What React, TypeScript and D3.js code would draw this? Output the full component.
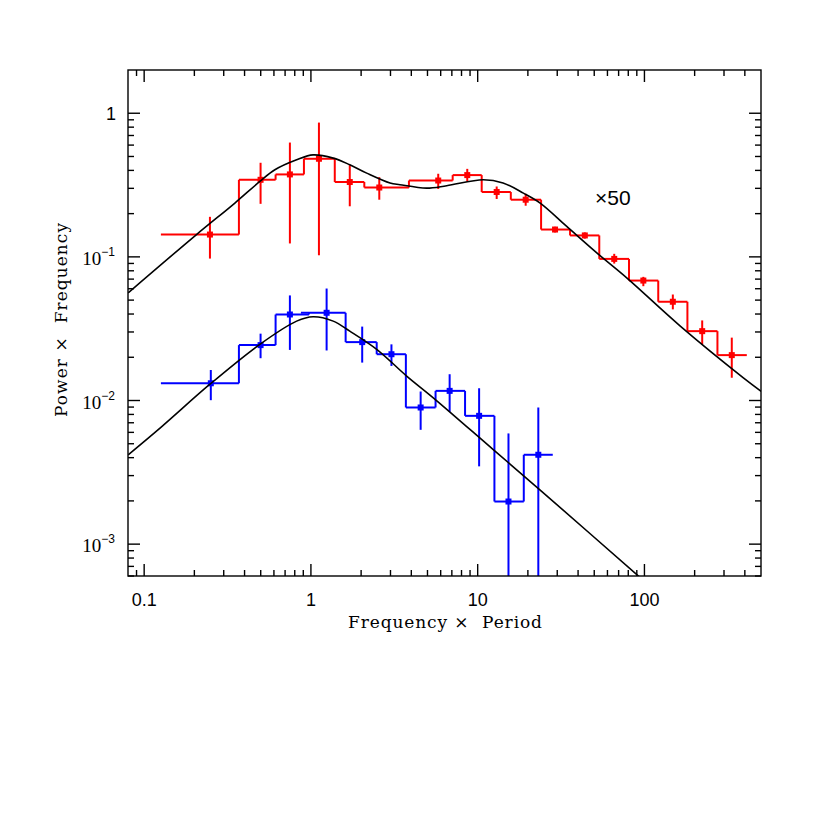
import * as d3 from "d3";

// plot box (px)
const LEFT = 128;
const RIGHT = 761;
const TOP = 70;
const BOTTOM = 576;

// red data (scaled x50)
const redLo = [0.126, 0.37, 0.614, 0.908, 1.39, 2.09, 3.87, 7.08, 10.57, 15.8, 24.0, 35.8, 53.6, 80.8, 121, 181, 274];
const redHi = [0.37, 0.614, 0.908, 1.39, 2.09, 3.87, 7.08, 10.57, 15.8, 24.0, 35.8, 53.6, 80.8, 121, 181, 274, 411];
const redX = [0.248, 0.499, 0.748, 1.117, 1.71, 2.57, 5.8, 8.66, 13.0, 19.4, 29.1, 43.9, 65.9, 98.5, 148, 222, 334];
const redY = [0.143, 0.344, 0.375, 0.482, 0.332, 0.304, 0.34, 0.371, 0.283, 0.25, 0.155, 0.141, 0.0968, 0.0684, 0.0487, 0.0304, 0.0207];
const redErrHi = [0.19, 0.452, 0.625, 0.861, 0.435, 0.359, 0.379, 0.41, 0.309, 0.275, 0.162, 0.148, 0.105, 0.0726, 0.0547, 0.0361, 0.0274];
const redErrLo = [0.0973, 0.234, 0.124, 0.1026, 0.225, 0.25, 0.297, 0.335, 0.253, 0.227, 0.148, 0.134, 0.0898, 0.0625, 0.0431, 0.0246, 0.0144];

// blue data
const blueLo = [0.126, 0.37, 0.614, 0.871, 1.615, 2.48, 3.71, 5.59, 8.4, 12.6, 18.9];
const blueHi = [0.37, 0.614, 0.973, 1.615, 2.48, 3.71, 5.59, 8.4, 12.6, 18.9, 28.2];
const blueX = [0.251, 0.499, 0.748, 1.242, 2.03, 3.04, 4.55, 6.79, 10.2, 15.3, 23.1];
const blueY = [0.01318, 0.0243, 0.0397, 0.0408, 0.0255, 0.021, 0.00894, 0.01167, 0.00782, 0.00198, 0.00419];
const blueErrHi = [0.01631, 0.0292, 0.0539, 0.0602, 0.0327, 0.0246, 0.01155, 0.01524, 0.01217, 0.0059, 0.00894];
const blueErrLo = [0.01005, 0.0197, 0.0225, 0.0223, 0.01836, 0.0174, 0.00625, 0.00834, 0.00348, 0.0001, 0.0001];

// model curves
const redModel: [number, number][] = [
  [0.0802, 0.0562], [0.206, 0.143], [0.35, 0.237], [0.494, 0.335], [0.608, 0.404],
  [0.821, 0.474], [1.03, 0.513], [1.36, 0.487], [1.71, 0.438], [2.16, 0.383],
  [2.98, 0.327], [3.42, 0.318], [4.94, 0.301], [6.52, 0.313], [10.8, 0.344],
  [14.2, 0.327], [18.8, 0.278], [23.7, 0.237], [34.2, 0.163], [51.8, 0.1066],
  [78.3, 0.0715], [164, 0.033], [392, 0.0144], [501, 0.0116],
];
const blueModel: [number, number][] = [
  [0.0802, 0.00419], [0.127, 0.00656], [0.248, 0.01298], [0.494, 0.0246], [0.821, 0.0357],
  [1.03, 0.0383], [1.36, 0.0357], [1.71, 0.0304], [2.48, 0.0227], [3.75, 0.0148],
  [5.55, 0.0102], [12.4, 0.00455], [23.7, 0.00238], [110, 0.0005],
];

const xMajor = [0.1, 1, 10, 100];
const xLabels = ["0.1", "1", "10", "100"];
const yMajor = [0.001, 0.01, 0.1, 1];
const yExp = ["\u22123", "\u22122", "\u22121", ""];

const x = d3.scaleLog().domain([0.08, 500]).range([LEFT, RIGHT]);
const y = d3.scaleLog().domain([6e-4, 2]).range([BOTTOM, TOP]);

function minorTicks(lo: number, hi: number) {
  const out: number[] = [];
  for (let e = -4; e <= 3; e++) {
    for (let m = 2; m <= 9; m++) {
      const v = m * Math.pow(10, e);
      if (v > lo && v < hi) out.push(v);
    }
  }
  return out;
}

function Series({ lo, hi, xs, ys, eHi, eLo, color }: any) {
  return (
    <g stroke={color} strokeWidth={2} fill="none">
      {xs.map((_: number, i: number) => (
        <line key={"h" + i} x1={x(lo[i])} x2={x(hi[i])} y1={y(ys[i])} y2={y(ys[i])} />
      ))}
      {xs.map((_: number, i: number) =>
        i === 0 ? null : (
          <line key={"c" + i} x1={x(hi[i - 1])} x2={x(hi[i - 1])} y1={y(ys[i - 1])} y2={y(ys[i])} />
        )
      )}
      {xs.map((v: number, i: number) => (
        <line key={"e" + i} x1={x(v)} x2={x(v)} y1={y(eHi[i])} y2={y(eLo[i])} />
      ))}
      {xs.map((v: number, i: number) => (
        <rect key={"m" + i} x={x(v) - 3} y={y(ys[i]) - 3} width={6} height={6} fill={color} stroke="none" />
      ))}
    </g>
  );
}

export default function App() {
  const line = d3
    .line<[number, number]>()
    .x((d) => x(d[0]))
    .y((d) => y(d[1]))
    .curve(d3.curveCatmullRom.alpha(0.5));

  const xMin = minorTicks(0.08, 500);
  const yMin = minorTicks(6e-4, 2);

  return (
    <svg width={830} height={830} style={{ position: "absolute", left: 0, top: 0, background: "white" }}>
      <defs>
        <clipPath id="plot">
          <rect x={LEFT} y={TOP} width={RIGHT - LEFT} height={BOTTOM - TOP} />
        </clipPath>
      </defs>

      <g clipPath="url(#plot)">
        <Series lo={redLo} hi={redHi} xs={redX} ys={redY} eHi={redErrHi} eLo={redErrLo} color="#ff0000" />
        <Series lo={blueLo} hi={blueHi} xs={blueX} ys={blueY} eHi={blueErrHi} eLo={blueErrLo} color="#0000ff" />
        <path d={line(redModel) || ""} fill="none" stroke="black" strokeWidth={1.6} />
        <path d={line(blueModel) || ""} fill="none" stroke="black" strokeWidth={1.6} />
      </g>

      {/* frame and ticks */}
      <g stroke="black" strokeWidth={1.4} fill="none">
        <rect x={LEFT} y={TOP} width={RIGHT - LEFT} height={BOTTOM - TOP} />
        {xMajor.map((v) => (
          <g key={"xM" + v}>
            <line x1={x(v)} x2={x(v)} y1={BOTTOM} y2={BOTTOM - 12} />
            <line x1={x(v)} x2={x(v)} y1={TOP} y2={TOP + 12} />
          </g>
        ))}
        {xMin.map((v) => (
          <g key={"xm" + v}>
            <line x1={x(v)} x2={x(v)} y1={BOTTOM} y2={BOTTOM - 6} />
            <line x1={x(v)} x2={x(v)} y1={TOP} y2={TOP + 6} />
          </g>
        ))}
        {yMajor.map((v) => (
          <g key={"yM" + v}>
            <line x1={LEFT} x2={LEFT + 12} y1={y(v)} y2={y(v)} />
            <line x1={RIGHT} x2={RIGHT - 12} y1={y(v)} y2={y(v)} />
          </g>
        ))}
        {yMin.map((v) => (
          <g key={"ym" + v}>
            <line x1={LEFT} x2={LEFT + 6} y1={y(v)} y2={y(v)} />
            <line x1={RIGHT} x2={RIGHT - 6} y1={y(v)} y2={y(v)} />
          </g>
        ))}
      </g>

      {/* x tick labels */}
      <g fontFamily="Liberation Sans, Arial, sans-serif" fontSize={18} textAnchor="middle" fill="black">
        {xMajor.map((v, i) => (
          <text key={"xl" + v} x={x(v)} y={606}>
            {xLabels[i]}
          </text>
        ))}
      </g>

      {/* y tick labels */}
      <g textAnchor="end" fill="black">
        {yMajor.map((v, i) =>
          yExp[i] === "" ? (
            <text key={"yl" + v} x={116} y={y(v) + 7} fontFamily="Liberation Sans, Arial, sans-serif" fontSize={18}>
              1
            </text>
          ) : (
            <text key={"yl" + v} x={115} y={y(v) + 8} fontFamily="Liberation Serif, Times New Roman, serif" fontSize={19}>
              10
              <tspan dy={-9} fontSize={12} fontFamily="Liberation Sans, Arial, sans-serif">
                {yExp[i]}
              </tspan>
            </text>
          )
        )}
      </g>

      {/* axis titles */}
      <text
        x={445}
        y={628}
        textAnchor="middle"
        fontFamily="DejaVu Serif, serif"
        fontSize={17}
        textLength={194}
        lengthAdjust="spacing"
        style={{ whiteSpace: "pre" }}
      >
        {"Frequency \u00d7  Period"}
      </text>
      <text
        transform="translate(67,320) rotate(-90)"
        textAnchor="middle"
        fontFamily="DejaVu Serif, serif"
        fontSize={17}
        textLength={194}
        lengthAdjust="spacing"
        style={{ whiteSpace: "pre" }}
      >
        {"Power \u00d7  Frequency"}
      </text>

      <text x={595} y={205} fontFamily="Liberation Sans, Arial, sans-serif" fontSize={21} fill="black">
        {"\u00d750"}
      </text>
    </svg>
  );
}
